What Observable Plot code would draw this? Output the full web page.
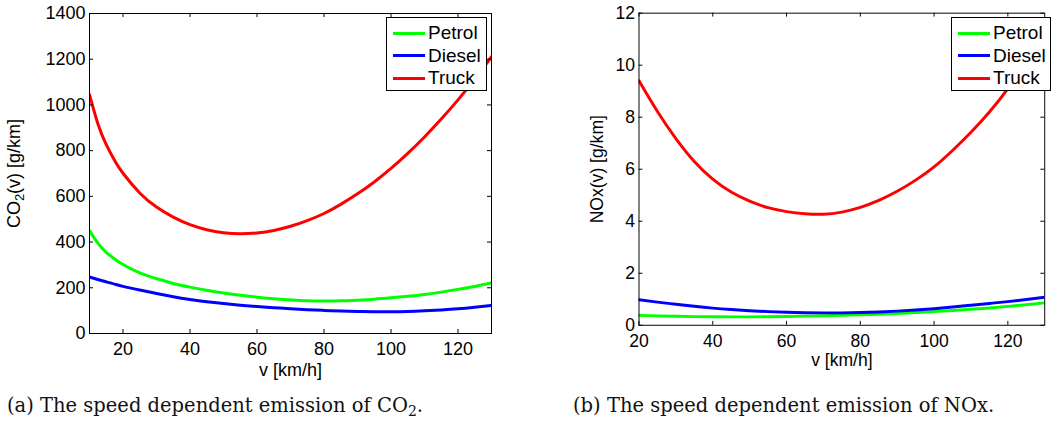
<!DOCTYPE html>
<html>
<head>
<meta charset="utf-8">
<script src="https://cdn.jsdelivr.net/npm/d3@7"></script>
<script src="https://cdn.jsdelivr.net/npm/@observablehq/plot@0.6"></script>
<style>
  html, body { margin: 0; padding: 0; background: #fff; }
  #page { position: relative; width: 1054px; height: 425px; overflow: hidden; font-family: "Liberation Sans", Arial, sans-serif; }
  .panel { position: absolute; top: 0; }
  .panel svg { overflow: visible; }
  .legend { position: absolute; top: 17px; height: 74px; border: 1px solid #000; background: #fff; box-sizing: border-box; font-size: 19px; color: #000; }
  .legend .row { position: absolute; left: 0; height: 22px; display: flex; align-items: center; }
  .legend .swatch { width: 32px; height: 3px; margin-left: 6px; margin-right: 3px; }
  .caption { position: absolute; top: 396px; font-family: "DejaVu Serif", serif; font-size: 19.5px; line-height: 1; color: #111; white-space: nowrap; }
  .caption .sub { position: relative; top: 0.25em; font-size: 0.72em; }
</style>
</head>
<body>
<div id="page">
  <div id="left" class="panel" style="left:0px"></div>
  <div id="right" class="panel" style="left:540px"></div>
  <div id="legL" class="legend" style="left:386px;width:101px"></div>
  <div id="legR" class="legend" style="left:951px;width:100px"></div>
  <div class="caption" style="left:7px">(a) The speed dependent emission of CO<span class="sub">2</span>.</div>
  <div class="caption" style="left:573px">(b) The speed dependent emission of NOx.</div>
</div>
<script>
// ---- Data ----
const seriesNames = ["Petrol", "Diesel", "Truck"];
const seriesColors = ["#00ff00", "#0000ff", "#ff0000"];

// CO2 panel
const co2Speeds = [10, 12.5, 15, 17.5, 20, 25, 30, 35, 40, 45, 50, 55, 60, 65, 70, 75, 80, 85, 90, 95, 100, 105, 110, 115, 120, 125, 130];
const co2Petrol = [450, 395, 355, 326, 302, 265, 240, 219, 203, 189, 177, 167, 159, 152, 147, 143, 142, 143, 146, 150, 156, 163, 171, 181, 193, 206, 221];
const co2Diesel = [247, 236, 226, 216, 206, 190, 175, 161, 149, 139, 131, 124, 118, 113, 108, 104, 101, 98, 96, 95, 95, 96, 99, 103, 108, 115, 123];
const co2Truck  = [1045, 918, 826, 757, 701, 615, 553, 509, 476, 454, 441, 436, 440, 451, 469, 494, 525, 565, 611, 663, 722, 788, 860, 938, 1022, 1113, 1211];
const co2XTicks = [20, 40, 60, 80, 100, 120];
const co2YTicks = [0, 200, 400, 600, 800, 1000, 1200, 1400];

// NOx panel
const noxSpeeds = [20, 25, 30, 35, 40, 45, 50, 55, 60, 65, 70, 75, 80, 85, 90, 95, 100, 105, 110, 115, 120, 125, 130];
const noxPetrol = [0.38, 0.36, 0.345, 0.333, 0.325, 0.322, 0.324, 0.33, 0.34, 0.352, 0.366, 0.383, 0.403, 0.427, 0.455, 0.488, 0.525, 0.567, 0.614, 0.667, 0.726, 0.79, 0.86];
const noxDiesel = [0.98, 0.89, 0.81, 0.73, 0.66, 0.605, 0.56, 0.525, 0.5, 0.484, 0.476, 0.478, 0.49, 0.512, 0.544, 0.586, 0.638, 0.7, 0.77, 0.84, 0.91, 0.99, 1.08];
const noxTruck  = [9.4, 8.22, 7.18, 6.3, 5.62, 5.12, 4.77, 4.52, 4.37, 4.29, 4.27, 4.35, 4.53, 4.8, 5.15, 5.58, 6.09, 6.72, 7.42, 8.2, 9.1, 10.18, 11.38];
const noxXTicks = [20, 40, 60, 80, 100, 120];
const noxYTicks = [0, 2, 4, 6, 8, 10, 12];

const xLabel = "v [km/h]";

function toRows(speeds, lists) {
  const rows = [];
  lists.forEach((vals, k) => speeds.forEach((v, i) => rows.push({v, val: vals[i], name: seriesNames[k]})));
  return rows;
}

function panel({rows, xDomain, yDomain, xTicks, yTicks, yLabel, width, marginLeft, marginRight, yLabelOffset}) {
  const height = 380, marginTop = 13, marginBottom = 47, tick = 4;
  const fw = width - marginLeft - marginRight, fh = height - marginTop - marginBottom;
  const fmt = d => String(d);
  return Plot.plot({
    width, height, marginLeft, marginRight, marginTop, marginBottom,
    style: {fontFamily: "'Liberation Sans', Arial, sans-serif", fontSize: "18px", color: "#000", background: "transparent", overflow: "visible"},
    x: {domain: xDomain},
    y: {domain: yDomain},
    color: {domain: seriesNames, range: seriesColors},
    marks: [
      Plot.line(rows, {x: "v", y: "val", z: "name", stroke: "name", strokeWidth: 3, curve: "natural", clip: true}),
      // inward ticks on all four sides
      Plot.tickX(xTicks, {x: d => d, stroke: "#000", insetTop: fh - tick}),
      Plot.tickX(xTicks, {x: d => d, stroke: "#000", insetBottom: fh - tick}),
      Plot.tickY(yTicks, {y: d => d, stroke: "#000", insetRight: fw - tick}),
      Plot.tickY(yTicks, {y: d => d, stroke: "#000", insetLeft: fw - tick}),
      Plot.frame({stroke: "#000", strokeWidth: 1}),
      Plot.axisX({ticks: xTicks, anchor: "bottom", tickSize: 0, tickPadding: 9, tickFormat: fmt,
        label: xLabel, labelAnchor: "center", labelOffset: 42, labelArrow: false}),
      Plot.axisY({ticks: yTicks, anchor: "left", tickSize: 0, tickPadding: 4, tickFormat: fmt,
        label: yLabel, labelAnchor: "center", labelOffset: yLabelOffset, labelArrow: false})
    ]
  });
}

const leftPlot = panel({
  rows: toRows(co2Speeds, [co2Petrol, co2Diesel, co2Truck]),
  xDomain: [10, 130], yDomain: [0, 1400], xTicks: co2XTicks, yTicks: co2YTicks,
  yLabel: "CO2(v) [g/km]", width: 500, marginLeft: 89, marginRight: 9, yLabelOffset: 82
});
document.getElementById("left").appendChild(leftPlot);

const rightPlot = panel({
  rows: toRows(noxSpeeds, [noxPetrol, noxDiesel, noxTruck]),
  xDomain: [20, 130], yDomain: [0, 12], xTicks: noxXTicks, yTicks: noxYTicks,
  yLabel: "NOx(v) [g/km]", width: 527, marginLeft: 101, marginRight: 10, yLabelOffset: 50
});
document.getElementById("right").appendChild(rightPlot);

// subscript "2" in the CO2 axis label
(function () {
  const ns = "http://www.w3.org/2000/svg";
  const texts = leftPlot.querySelectorAll("text");
  for (const t of texts) {
    if (t.textContent === "CO2(v) [g/km]") {
      const target = t.querySelector("tspan") || t;
      target.textContent = "CO";
      const s = document.createElementNS(ns, "tspan");
      s.setAttribute("dy", "0.3em"); s.setAttribute("font-size", "0.72em"); s.textContent = "2";
      const r = document.createElementNS(ns, "tspan");
      r.setAttribute("dy", "-0.22em"); r.textContent = "(v) [g/km]";
      target.appendChild(s); target.appendChild(r);
    }
  }
})();

// legends
function legend(id) {
  const box = document.getElementById(id);
  seriesNames.forEach((n, i) => {
    const row = document.createElement("div");
    row.className = "row";
    row.style.top = (4 + i * 22.7) + "px";
    const sw = document.createElement("div");
    sw.className = "swatch"; sw.style.background = seriesColors[i];
    const tx = document.createElement("span"); tx.textContent = n;
    row.appendChild(sw); row.appendChild(tx); box.appendChild(row);
  });
}
legend("legL"); legend("legR");
</script>
</body>
</html>
